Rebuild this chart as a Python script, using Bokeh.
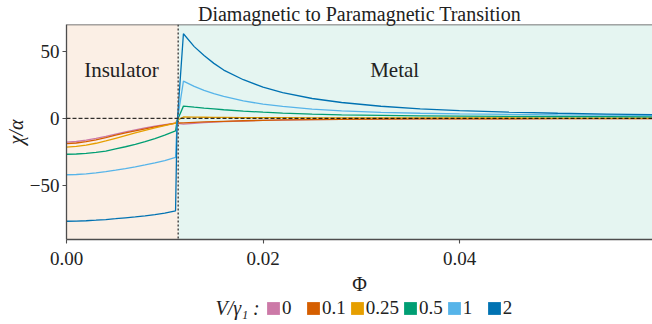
import numpy as np
from bokeh.plotting import figure
from bokeh.layouts import column
from bokeh.models import (BoxAnnotation, Span, Label, Legend, LegendItem,
                          FixedTicker, Range1d)
from bokeh.embed import file_html
from bokeh.resources import INLINE

# ---------------- data ----------------
PHI = [0.0, 0.001, 0.002, 0.003, 0.004, 0.005, 0.006, 0.007, 0.008, 0.009,
       0.010, 0.0111, 0.01125, 0.0119, 0.013, 0.014, 0.015, 0.016, 0.018,
       0.020, 0.022, 0.025, 0.028, 0.032, 0.036, 0.040, 0.045, 0.050, 0.055,
       0.060]

CHI_V0 = [-17.8, -17.3, -16.3, -15.0, -13.5, -11.8, -10.1, -8.6, -7.2, -5.9,
          -4.7, -3.5, -3.8, -4.3, -3.7, -3.2, -2.8, -2.5, -2.0,
          -1.6, -1.3, -1.0, -0.8, -0.6, -0.45, -0.35, -0.3, -0.25, -0.2, -0.2]
CHI_V01 = [-18.9, -18.4, -17.4, -16.0, -14.4, -12.6, -10.9, -9.3, -7.8, -6.4,
           -5.0, -3.6, -3.5, -3.4, -3.0, -2.7, -2.4, -2.2, -1.8,
           -1.5, -1.2, -0.95, -0.75, -0.55, -0.45, -0.35, -0.3, -0.25, -0.2, -0.2]
CHI_V025 = [-21.5, -21.0, -20.0, -18.6, -16.9, -14.9, -12.9, -10.9, -9.0, -7.2,
            -5.4, -3.6, -1.5, 1.0, 0.9, 0.8, 0.7, 0.65, 0.55,
            0.5, 0.45, 0.4, 0.35, 0.3, 0.3, 0.25, 0.25, 0.2, 0.2, 0.2]
CHI_V05 = [-26.8, -26.6, -26.1, -25.4, -24.4, -22.8, -21.2, -19.4, -17.4, -15.1,
           -12.5, -9.3, -2.0, 9.1, 8.3, 7.6, 7.0, 6.4, 5.4,
           4.6, 3.9, 3.2, 2.6, 2.2, 1.9, 1.7, 1.5, 1.35, 1.25, 1.15]
CHI_V1 = [-42.1, -41.9, -41.4, -40.7, -39.8, -38.7, -37.5, -36.2, -34.8, -33.3,
          -31.6, -29.2, -3.0, 27.7, 23.8, 20.8, 18.4, 16.3, 13.0,
          10.6, 8.9, 6.9, 5.6, 4.5, 3.8, 3.3, 2.9, 2.6, 2.4, 2.2]
CHI_V2 = [-76.8, -76.7, -76.4, -76.0, -75.5, -74.9, -74.2, -73.5, -72.7, -71.8,
          -70.8, -69.0, -5.0, 63.1, 53.5, 46.8, 41.0, 36.0, 28.8,
          23.2, 19.2, 14.8, 11.8, 9.0, 7.1, 5.8, 4.6, 3.8, 3.2, 2.7]

SERIES_LABELS = ["0", "0.1", "0.25", "0.5", "1", "2"]
SERIES = [CHI_V0, CHI_V01, CHI_V025, CHI_V05, CHI_V1, CHI_V2]
COLORS = ["#CC79A7", "#D55E00", "#E69F00", "#009E73", "#56B4E9", "#0072B2"]
LEGEND_TITLE = "V/\u03b3\u2081 :"

PHI_C = 0.01137          # transition point
X_MIN, X_MAX = 0.0, 0.05964
Y_MIN, Y_MAX = -90.4, 70.0
X_TICKS = [0.0, 0.02, 0.04]
X_TICK_LABELS = ["0.00", "0.02", "0.04"]
Y_TICKS = [-50, 0, 50]
Y_TICK_LABELS = ["\u221250", "0", "50"]

FONT = "Liberation Serif"
SPINE = "#4d4d4d"
TXT = "#222222"
W = 652
LEFT = 66
H_MAIN = 297
H_LEG = 27

p = figure(width=W, height=H_MAIN, output_backend="svg", toolbar_location=None,
           x_range=Range1d(X_MIN, X_MAX), y_range=Range1d(Y_MIN, Y_MAX),
           min_border_left=LEFT, min_border_right=0, min_border_top=0,
           min_border_bottom=0, background_fill_color="white",
           border_fill_color="white")
p.outline_line_color = None
p.grid.visible = False

# regions
p.add_layout(BoxAnnotation(right=PHI_C, fill_color="#D55E00", fill_alpha=0.1,
                           line_color=None, level="underlay"))
p.add_layout(BoxAnnotation(left=PHI_C, fill_color="#009E73", fill_alpha=0.1,
                           line_color=None, level="underlay"))

for chi, c in zip(SERIES, COLORS):
    p.line(PHI, chi, line_color=c, line_width=1.3)

# reference lines
p.add_layout(Span(location=0, dimension="width", line_color="black",
                  line_dash="4 2", line_width=1))
p.add_layout(Span(location=PHI_C, dimension="height", line_color="#555555",
                  line_dash="2 2", line_width=1.6))
p.add_layout(Span(location=Y_MAX, dimension="width", line_color=SPINE,
                  line_width=1.3))

p.add_layout(Label(x=0.0056, y=36.4, text="Insulator", text_align="center",
                   text_baseline="middle", text_font=FONT,
                   text_font_size="21px", text_color=TXT))
p.add_layout(Label(x=0.0334, y=36.4, text="Metal", text_align="center",
                   text_baseline="middle", text_font=FONT,
                   text_font_size="21px", text_color=TXT))

# title
p.title.text = "Diamagnetic to Paramagnetic Transition"
p.title.align = "center"
p.title.text_font = FONT
p.title.text_font_style = "normal"
p.title.text_font_size = "20px"
p.title.text_color = TXT
p.title.standoff = 0
p.title.offset = 0

# axes
p.xaxis.ticker = FixedTicker(ticks=X_TICKS)
p.xaxis.major_label_overrides = dict(zip(X_TICKS, X_TICK_LABELS))
p.yaxis.ticker = FixedTicker(ticks=Y_TICKS)
p.yaxis.major_label_overrides = dict(zip(Y_TICKS, Y_TICK_LABELS))
p.xaxis.axis_label = "\u03a6"
p.yaxis.axis_label = "\u03c7/\u03b1"
p.yaxis.axis_label_text_font_style = "italic"
p.xaxis.axis_label_text_font_style = "normal"
for ax in (p.xaxis, p.yaxis):
    ax.axis_line_color = SPINE
    ax.axis_line_width = 1.3
    ax.major_tick_line_color = SPINE
    ax.major_tick_line_width = 1.1
    ax.major_tick_out = 4
    ax.major_tick_in = 0
    ax.minor_tick_line_color = None
    ax.major_label_text_font = FONT
    ax.major_label_text_font_size = "19px"
    ax.major_label_text_color = TXT
    ax.axis_label_text_font = FONT
    ax.axis_label_text_font_size = "20px"
    ax.axis_label_text_color = TXT
p.xaxis.major_label_standoff = 8
p.xaxis.axis_label_standoff = 5
p.yaxis.major_label_standoff = 3
p.yaxis.axis_label_standoff = 0

# ---------------- legend row (separate strip under the plot) ----------------
q = figure(width=W, height=H_LEG, output_backend="svg", toolbar_location=None,
           x_range=Range1d(0, W - LEFT), y_range=Range1d(0, H_LEG),
           x_axis_type=None, y_axis_type=None,
           min_border=0, min_border_left=LEFT, min_border_right=0,
           min_border_top=0, min_border_bottom=0,
           background_fill_color="white", border_fill_color="white")
q.outline_line_color = None
q.grid.visible = False

items = []
for lab, c in zip(SERIES_LABELS, COLORS):
    r = q.quad(left=np.array([np.nan]), right=np.array([np.nan]),
               top=np.array([np.nan]), bottom=np.array([np.nan]),
               fill_color=c, line_color=None)
    items.append(LegendItem(label=lab, renderers=[r]))
legend = Legend(items=items, orientation="horizontal", location=(199, 5),
                label_text_font=FONT, label_text_font_size="19px",
                label_text_color=TXT, glyph_width=16, glyph_height=16,
                label_height=16, label_standoff=1, spacing=3, padding=0,
                margin=0, border_line_color=None, background_fill_alpha=0)
q.add_layout(legend, "center")
q.add_layout(Label(x=149, y=17, text=LEGEND_TITLE, text_font=FONT,
                   text_font_style="italic", text_font_size="20px",
                   text_color=TXT, text_baseline="middle", text_align="left"))

layout = column(p, q, spacing=0)
open("out.html", "w").write(file_html(layout, INLINE))
